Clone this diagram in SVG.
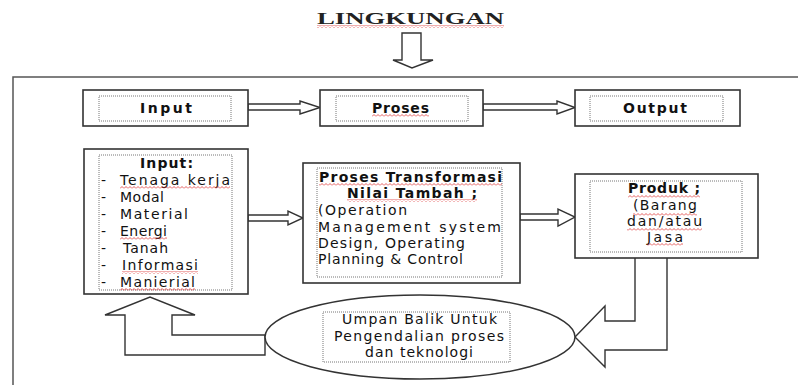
<svg xmlns="http://www.w3.org/2000/svg" width="798" height="385" viewBox="0 0 798 385">
<style>
.box{fill:#fff;stroke:#333;stroke-width:1.6}
.dot{fill:none;stroke:#777;stroke-width:1;stroke-dasharray:1 1}
.arr{fill:#fff;stroke:#333;stroke-width:1.4;stroke-linejoin:miter}
.t{font-family:"DejaVu Sans","Liberation Sans",sans-serif;font-size:14px;fill:#111}
.b{font-weight:bold}
.ttl{font-family:"Liberation Serif",serif;font-size:16px;font-weight:bold;fill:#222}
.sq{fill:url(#wave)}
</style>
<defs>
<pattern id="wave" width="4" height="3" patternUnits="userSpaceOnUse">
<path d="M0,2.5 L2,0.5 L4,2.5" fill="none" stroke="#d33" stroke-width="0.8"/>
</pattern>
</defs>
<rect width="798" height="385" fill="#fff"/>

<g id="title">
<text class="ttl" x="317" y="24" textLength="187" lengthAdjust="spacingAndGlyphs">LINGKUNGAN</text>
<rect class="sq" x="317" y="25" width="187" height="3"/>
</g>

<g id="frame">
<path d="M13,385 V77 H798" fill="none" stroke="#555" stroke-width="1.5"/>
</g>

<g id="connectors">
<polygon class="arr" points="402,33 421,33 421,60 433,60 412,68 393,60 402,60"/>
<polygon class="arr" points="248,104 300,104 300,101 320,107.5 300,114 300,110 248,110"/>
<polygon class="arr" points="483,104 557,104 557,101 575,107.5 557,114 557,110 483,110"/>
<polygon class="arr" points="248,215 288,215 288,211 303,218 288,225 288,221 248,221"/>
<polygon class="arr" points="520,214 558,214 558,209 575,217 558,226 558,220 520,220"/>
<polygon class="arr" points="265,335 172,335 172,315 195,315 150,297 105,315 125,315 125,355 265,355"/>
<path class="arr" d="M635,258 V321 H605 V306 L575,337 L605,367 V350 H667 V258"/>
</g>

<g id="input-top">
<rect class="box" x="83" y="90" width="165" height="36"/>
<rect class="dot" x="99" y="96" width="132" height="25"/>
<text class="t b" x="140" y="113" textLength="52">Input</text>
</g>

<g id="proses-top">
<rect class="box" x="320" y="90" width="163" height="36"/>
<rect class="dot" x="336" y="96" width="132" height="25"/>
<text class="t b" x="372" y="113" textLength="57">Proses</text>
<rect class="sq" x="372" y="114" width="57" height="3"/>
</g>

<g id="output-top">
<rect class="box" x="575" y="90" width="165" height="36"/>
<rect class="dot" x="590" y="96" width="133" height="25"/>
<text class="t b" x="623" y="113" textLength="64">Output</text>
</g>

<g id="input-list">
<rect class="box" x="84" y="149" width="164" height="145"/>
<rect class="dot" x="99" y="155" width="133" height="135"/>
<text class="t b" x="140" y="168" textLength="53">Input:</text>
<text class="t" x="101" y="185">-</text><text class="t" x="120" y="185" textLength="110">Tenaga kerja</text>
<text class="t" x="101" y="202">-</text><text class="t" x="120" y="202" textLength="44">Modal</text>
<text class="t" x="101" y="219">-</text><text class="t" x="120" y="219" textLength="68">Material</text>
<text class="t" x="101" y="236">-</text><text class="t" x="120" y="236" textLength="47">Energi</text>
<text class="t" x="101" y="253">-</text><text class="t" x="123" y="253" textLength="45">Tanah</text>
<text class="t" x="101" y="270">-</text><text class="t" x="122" y="270" textLength="76">Informasi</text>
<text class="t" x="101" y="287">-</text><text class="t" x="120" y="287" textLength="75">Manierial</text>
<rect class="sq" x="120" y="186" width="110" height="3"/>
<rect class="sq" x="120" y="237" width="47" height="3"/>
<rect class="sq" x="122" y="271" width="76" height="3"/>
<rect class="sq" x="120" y="288" width="75" height="3"/>
</g>

<g id="transformasi">
<rect class="box" x="303" y="163" width="217" height="120"/>
<rect class="dot" x="317" y="168" width="185" height="109"/>
<text class="t b" x="319" y="182" textLength="183">Proses Transformasi</text>
<text class="t b" x="347" y="198" textLength="130">Nilai Tambah ;</text>
<rect class="sq" x="319" y="183" width="183" height="3"/>
<rect class="sq" x="347" y="199" width="130" height="3"/>
<text class="t" x="318" y="215" textLength="89">(Operation</text>
<text class="t" x="318" y="232" textLength="183">Management system</text>
<text class="t" x="318" y="248" textLength="147">Design, Operating</text>
<text class="t" x="318" y="264" textLength="145">Planning &amp; Control</text>
</g>

<g id="produk">
<rect class="box" x="575" y="174" width="183" height="84"/>
<rect class="dot" x="590" y="181" width="152" height="71"/>
<text class="t b" x="628" y="193" textLength="72">Produk ;</text>
<text class="t" x="633" y="210" textLength="64">(Barang</text>
<text class="t" x="627" y="226" textLength="75">dan/atau</text>
<text class="t" x="647" y="242" textLength="36">Jasa</text>
<rect class="sq" x="628" y="195" width="72" height="3"/>
<rect class="sq" x="633" y="213" width="64" height="3"/>
<rect class="sq" x="627" y="228" width="75" height="3"/>
<rect class="sq" x="647" y="243" width="36" height="3"/>
</g>

<g id="umpan-balik">
<ellipse cx="420" cy="337" rx="155" ry="42" fill="#fff" stroke="#333" stroke-width="1.5"/>
<rect class="dot" x="323" y="312" width="187" height="50"/>
<text class="t" x="342" y="324" textLength="155">Umpan Balik Untuk</text>
<text class="t" x="334" y="341" textLength="170">Pengendalian proses</text>
<text class="t" x="365" y="357" textLength="108">dan teknologi</text>
</g>
</svg>
